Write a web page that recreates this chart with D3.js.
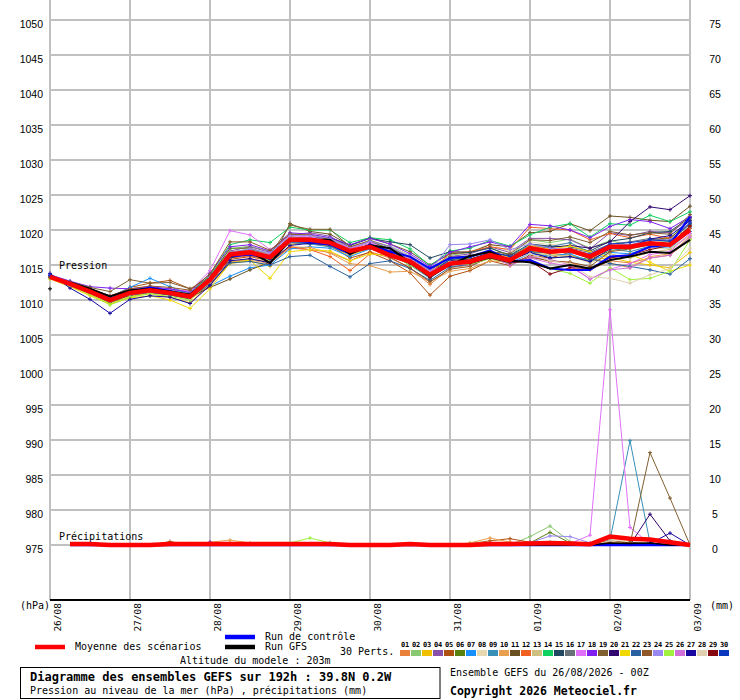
<!DOCTYPE html>
<html><head><meta charset="utf-8">
<script src="https://cdn.jsdelivr.net/npm/d3@7"></script>
<style>
body{margin:0;background:#fff}
svg{display:block}
text{font-family:"DejaVu Sans Mono",monospace;font-size:10px;fill:#000}
</style>
</head><body>
<svg id="c" width="740" height="700"></svg>
<script>
// ---------- DATA ----------
const hours = [0,6,12,18,24,30,36,42,48,54,60,66,72,78,84,90,96,102,108,114,120,126,132,138,144,150,156,162,168,174,180,186,192];
const precipHours = [6,12,18,24,30,36,42,48,54,60,66,72,78,84,90,96,102,108,114,120,126,132,138,144,150,156,162,168,174,180,186,192];
const dateLabels = ["26/08","27/08","28/08","29/08","30/08","31/08","01/09","02/09","03/09"];
const dateHours = [0,24,48,72,96,120,144,168,192];
const pressureTicks = [975,980,985,990,995,1000,1005,1010,1015,1020,1025,1030,1035,1040,1045,1050];
const precipTicks = [0,5,10,15,20,25,30,35,40,45,50,55,60,65,70,75];
const memberNames = ["01","02","03","04","05","06","07","08","09","10","11","12","13","14","15","16","17","18","19","20","21","22","23","24","25","26","27","28","29","30"];
const memberColors = ["#e8803a","#88c870","#f0c000","#8850a8","#b05010","#5a8010","#1890ff","#e8d8b0","#3890b8","#e8a050","#6a5020","#f06020","#d0c080","#10d060","#204860","#687078","#e070f8","#8020f0","#806030","#300870","#f0d800","#2860a0","#905828","#9888f0","#a0f040","#d070d8","#1808a0","#e0d0b0","#880810","#0838c0"];

const pressMean    = [1013.3,1012.3,1011.2,1010.0,1011.0,1011.4,1011.0,1010.5, 1012.9,1016.5,1016.8,1016.1,1018.6,1018.6,1018.2,1017.0, 1017.6,1016.4,1015.5,1013.6,1015.2,1015.5,1016.4,1015.7, 1017.4,1016.9,1017.1,1016.2,1017.6,1017.6,1018.1,1017.9,1020.0];
const pressControl = [1013.4,1012.4,1011.3,1010.2,1011.2,1011.8,1011.3,1010.6, 1012.8,1016.2,1016.5,1015.9,1018.4,1018.3,1017.9,1016.6, 1017.9,1016.9,1016.2,1014.5,1016.0,1016.2,1017.1,1015.5, 1015.7,1014.5,1014.3,1014.3,1016.2,1016.4,1017.6,1017.9,1021.9];
const pressGFS     = [1011.6,1012.5,1011.6,1010.5,1011.4,1011.6,1011.2,1010.8, 1013.0,1016.3,1016.9,1015.3,1018.5,1018.6,1018.6,1016.6, 1017.8,1017.4,1015.4,1013.4,1015.0,1016.3,1016.9,1015.6, 1015.4,1014.5,1015.0,1014.5,1015.7,1016.2,1016.9,1016.7,1018.6];

const pressP01 = [1013.2,1012.0,1010.9,1009.8,1010.6,1011.0,1010.7,1010.1, 1012.0,1015.4,1015.9,1015.4,1017.4,1017.2,1016.8,1015.6, 1016.9,1016.0,1014.6,1012.2,1014.6,1015.0,1016.2,1015.2, 1016.3,1015.5,1015.4,1014.3,1015.6,1015.3,1016.0,1016.4,1018.7];
const pressP02 = [1013.5,1012.6,1011.4,1010.3,1011.3,1011.7,1011.3,1010.6, 1013.6,1017.3,1017.7,1016.9,1019.5,1019.2,1018.8,1017.6, 1018.4,1017.7,1016.4,1014.5,1016.4,1016.8,1017.5,1016.3, 1018.6,1018.2,1018.7,1017.4,1018.5,1017.8,1018.6,1018.3,1020.9];
const pressP03 = [1013.1,1012.0,1010.8,1009.4,1010.5,1010.9,1010.4,1009.6, 1012.2,1015.2,1015.6,1014.8,1017.9,1018.3,1017.6,1016.4, 1017.4,1016.5,1015.0,1013.2,1015.1,1015.2,1016.0,1015.6, 1017.0,1016.6,1016.4,1015.6,1016.1,1015.4,1015.0,1014.6,1016.8];
const pressP04 = [1013.4,1012.5,1011.6,1010.6,1011.4,1011.8,1011.5,1011.0, 1013.5,1017.0,1017.6,1016.8,1019.3,1019.6,1019.1,1017.5, 1018.3,1017.3,1016.2,1014.4,1016.2,1016.6,1017.6,1016.8, 1018.8,1018.8,1018.6,1017.3,1019.6,1019.2,1019.8,1019.6,1021.6];
const pressP05 = [1013.2,1012.3,1011.4,1010.4,1011.8,1012.4,1012.8,1011.6, 1012.4,1015.8,1016.2,1015.6,1018.2,1018.0,1017.8,1016.0, 1016.8,1015.6,1013.9,1010.7,1013.4,1014.2,1015.6,1014.9, 1016.4,1016.0,1016.8,1016.4,1017.5,1017.8,1018.6,1018.9,1021.0];
const pressP06 = [1013.3,1012.2,1011.0,1009.6,1010.7,1011.2,1010.8,1010.2, 1013.3,1017.4,1017.4,1016.5,1019.0,1018.9,1018.7,1017.3, 1018.4,1017.3,1015.9,1014.0,1015.8,1015.9,1016.6,1015.7, 1017.0,1016.0,1016.2,1015.8,1017.0,1017.5,1018.4,1018.8,1021.4];
const pressP07 = [1013.5,1012.6,1011.5,1010.4,1011.8,1013.1,1011.9,1010.8, 1012.0,1013.4,1014.6,1015.0,1017.3,1017.6,1017.4,1016.2, 1017.3,1016.8,1015.4,1013.8,1015.6,1015.4,1016.2,1015.3, 1016.6,1016.3,1016.6,1015.5,1016.8,1016.6,1017.6,1017.4,1019.8];
const pressP08 = [1013.6,1012.6,1011.5,1010.5,1011.3,1011.6,1011.2,1010.8, 1013.0,1016.6,1017.0,1016.0,1018.8,1019.0,1018.5,1017.4, 1018.6,1017.6,1016.4,1014.6,1016.6,1016.9,1018.0,1016.9, 1018.3,1017.9,1018.1,1016.7,1017.2,1016.9,1017.4,1017.3,1019.4];
const pressP09 = [1013.4,1012.3,1011.1,1009.9,1010.8,1011.3,1011.0,1010.6, 1013.4,1016.6,1016.3,1015.8,1018.2,1018.0,1017.6,1016.6, 1017.7,1016.5,1015.0,1013.1,1015.1,1015.6,1016.8,1016.2, 1017.9,1017.6,1018.2,1016.8,1017.4,1016.9,1017.7,1018.0,1020.4];
const pressP10 = [1013.2,1012.2,1011.0,1009.9,1010.9,1011.3,1010.8,1010.3, 1012.1,1015.5,1015.7,1015.2,1017.6,1017.5,1016.7,1015.2, 1014.9,1014.0,1014.1,1012.6,1014.1,1014.5,1015.6,1015.4, 1017.9,1017.4,1016.9,1016.0,1015.3,1014.6,1016.2,1016.6,1019.1];
const pressP11 = [1013.2,1012.1,1011.0,1009.8,1010.8,1011.2,1010.9,1010.4, 1011.8,1013.0,1014.3,1015.4,1020.9,1019.8,1019.4,1017.8, 1018.9,1018.0,1016.9,1015.0,1016.6,1016.8,1017.9,1017.6, 1019.6,1019.8,1020.9,1019.9,1022.0,1021.8,1021.4,1021.2,1023.4];
const pressP12 = [1013.3,1012.4,1011.3,1010.1,1011.2,1011.5,1011.1,1010.6, 1012.6,1016.0,1016.3,1015.7,1017.6,1017.2,1016.2,1014.2, 1016.6,1016.4,1015.4,1013.6,1016.8,1016.9,1017.6,1017.2, 1020.4,1020.2,1020.0,1018.6,1019.5,1018.9,1019.4,1018.8,1020.2];
const pressP13 = [1013.4,1012.4,1011.3,1010.2,1011.2,1011.5,1011.1,1010.6, 1013.1,1016.9,1017.2,1016.5,1018.9,1018.8,1018.3,1017.0, 1018.0,1017.3,1015.8,1013.8,1015.6,1015.8,1016.6,1016.0, 1016.8,1016.4,1016.3,1015.3,1016.6,1016.0,1016.8,1017.2,1019.2];
const pressP14 = [1013.5,1012.6,1011.5,1010.4,1011.3,1011.8,1011.4,1010.9, 1013.6,1017.9,1018.6,1018.2,1020.4,1020.0,1020.0,1018.2, 1018.9,1018.6,1017.3,1014.9,1017.0,1017.4,1018.5,1017.7, 1019.3,1020.4,1020.9,1019.0,1020.9,1020.7,1022.1,1021.2,1022.6];
const pressP15 = [1013.2,1012.3,1011.2,1010.2,1011.0,1011.3,1011.0,1010.4, 1012.8,1016.0,1016.6,1016.2,1018.7,1018.9,1018.9,1017.8, 1018.8,1018.3,1017.9,1016.0,1016.9,1016.8,1017.4,1016.4, 1018.0,1017.7,1017.6,1017.0,1018.4,1018.8,1019.6,1019.8,1021.8];
const pressP16 = [1013.3,1012.2,1011.0,1009.8,1010.9,1011.4,1011.1,1010.6, 1013.3,1016.7,1016.9,1016.4,1019.0,1018.8,1018.0,1016.6, 1017.5,1016.7,1015.2,1013.3,1015.3,1015.5,1016.4,1015.8, 1017.2,1016.8,1017.4,1016.8,1018.0,1018.3,1018.8,1018.5,1020.8];
const pressP17 = [1013.6,1012.6,1011.5,1010.5,1011.5,1011.9,1011.5,1011.3, 1014.2,1019.9,1019.3,1017.2,1019.2,1019.0,1018.6,1017.5, 1018.3,1017.0,1015.6,1013.9,1015.2,1015.0,1016.0,1015.1, 1016.2,1015.8,1015.0,1013.0,1014.4,1015.2,1016.5,1016.9,1019.5];
const pressP18 = [1013.6,1012.7,1011.9,1011.7,1011.6,1011.9,1011.6,1011.1, 1013.8,1017.6,1017.9,1017.0,1019.6,1019.4,1018.9,1017.9, 1018.8,1018.0,1016.6,1014.8,1016.8,1017.6,1018.3,1017.6, 1020.8,1020.6,1020.0,1018.9,1020.5,1021.5,1021.2,1020.2,1021.9];
const pressP19 = [1013.4,1012.6,1011.8,1011.2,1012.9,1012.4,1012.5,1011.6, 1013.2,1016.8,1017.2,1016.4,1020.7,1020.1,1020.1,1017.6, 1018.5,1017.6,1016.0,1014.2,1016.1,1016.3,1016.9,1016.6, 1018.6,1018.5,1019.0,1018.2,1019.8,1019.3,1019.6,1019.4,1022.2];
const pressP20 = [1013.3,1012.4,1011.3,1010.1,1011.1,1011.5,1011.1,1010.5, 1012.9,1016.2,1016.5,1015.9,1018.3,1018.4,1018.0,1016.8, 1017.6,1016.8,1015.2,1013.4,1015.6,1015.8,1016.8,1016.3, 1017.6,1017.5,1017.8,1017.4,1018.3,1021.2,1023.3,1022.9,1024.9];
const pressP21 = [1013.0,1011.9,1010.6,1009.4,1010.3,1010.6,1010.0,1008.8, 1011.6,1015.3,1015.7,1013.1,1016.9,1017.2,1017.0,1015.6, 1016.6,1016.3,1015.2,1013.4,1015.4,1015.6,1016.6,1016.2, 1017.7,1017.3,1017.7,1016.9,1016.1,1016.5,1015.4,1014.1,1015.0];
const pressP22 = [1013.2,1012.1,1011.0,1009.8,1010.7,1011.1,1010.7,1010.2, 1012.3,1015.3,1015.5,1015.0,1016.2,1016.4,1014.8,1013.3, 1015.2,1015.6,1014.5,1012.8,1014.7,1015.1,1016.0,1015.5, 1016.9,1016.7,1016.9,1015.9,1015.2,1014.8,1014.3,1013.7,1015.9];
const pressP23 = [1013.4,1012.5,1011.6,1010.6,1011.6,1012.0,1011.8,1011.4, 1013.7,1018.3,1018.3,1017.1,1019.4,1019.3,1018.6,1016.6, 1017.4,1016.1,1014.6,1012.6,1014.4,1014.8,1016.1,1015.3, 1016.1,1015.6,1015.4,1014.8,1016.9,1017.3,1017.9,1018.0,1020.5];
const pressP24 = [1013.5,1012.5,1011.4,1010.4,1011.3,1011.7,1011.3,1010.9, 1013.2,1016.8,1017.3,1016.7,1019.2,1019.2,1018.8,1017.3, 1018.4,1017.6,1016.2,1014.1,1017.9,1018.0,1018.6,1017.2, 1018.0,1017.4,1017.2,1016.6,1018.0,1017.9,1018.5,1018.6,1021.1];
const pressP25 = [1013.1,1012.0,1010.8,1009.3,1010.4,1010.9,1010.5,1010.0, 1012.6,1016.6,1016.9,1015.6,1018.2,1018.3,1018.0,1016.9, 1017.6,1016.6,1015.0,1013.5,1015.3,1015.1,1015.9,1015.2, 1015.8,1014.5,1013.8,1012.4,1014.6,1012.9,1013.1,1014.1,1018.6];
const pressP26 = [1013.4,1012.4,1011.3,1010.2,1011.1,1011.5,1011.2,1010.7, 1013.0,1016.5,1017.0,1016.5,1018.9,1018.7,1018.4,1017.3, 1018.1,1017.0,1015.9,1014.1,1015.3,1015.2,1016.3,1015.0, 1016.0,1015.3,1014.8,1013.0,1014.3,1014.6,1016.0,1016.4,1019.0];
const pressP27 = [1013.8,1011.7,1010.1,1008.1,1010.1,1010.6,1010.4,1009.5, 1012.1,1015.6,1015.9,1015.3,1017.8,1018.1,1017.9,1016.9, 1017.8,1016.6,1015.2,1013.3,1015.0,1015.4,1016.4,1015.6, 1016.8,1016.0,1016.2,1015.5,1017.3,1017.6,1018.7,1019.2,1021.3];
const pressP28 = [1013.3,1012.2,1011.1,1009.9,1010.8,1011.2,1010.9,1010.3, 1012.6,1016.2,1016.6,1015.9,1018.3,1018.5,1018.1,1016.9, 1017.8,1016.9,1015.4,1013.5,1015.5,1015.7,1016.4,1015.6, 1016.6,1015.6,1015.2,1013.3,1013.1,1012.4,1013.6,1014.5,1017.4];
const pressP29 = [1013.3,1012.3,1011.2,1010.1,1011.0,1011.3,1010.9,1010.4, 1012.7,1016.3,1016.6,1016.0,1018.4,1018.5,1018.2,1017.0, 1017.9,1016.8,1015.3,1013.2,1015.2,1015.2,1016.0,1015.3, 1015.6,1013.7,1014.6,1014.5,1016.0,1016.4,1017.2,1017.8,1020.6];
const pressP30 = [1013.5,1012.5,1011.3,1010.2,1011.1,1011.6,1011.1,1010.6, 1013.0,1016.4,1016.6,1015.8,1018.6,1018.5,1018.1,1016.9, 1017.9,1017.0,1015.6,1013.7,1015.8,1016.1,1016.9,1016.2, 1017.5,1017.0,1017.2,1016.5,1018.0,1018.2,1018.6,1018.4,1021.0];

// precipitation (mm), steps 6h..192h
const precipMean    = [0.15,0.15,0,0,0,0.15,0.15,0.15, 0.15,0.15,0.15,0.15,0.15,0.15,0,0, 0,0.15,0,0,0,0.15,0.15,0.2, 0.3,0.2,0.1,1.2,0.9,0.8,0.4,0];
const precipControl = [0,0,0,0,0,0,0,0, 0,0,0,0,0,0,0,0, 0,0,0,0,0,0,0,0, 0,0,0,0,0,0,0,0];
const precipGFS     = [0,0,0,0,0,0,0,0, 0,0,0,0,0,0,0,0, 0,0,0,0,0,0,0,0, 0,0,0,0.3,0.2,0.3,0,0];
const precipP01 = [0,0,0,0,0,0,0,0.2, 0.3,0,0,0,0,0,0,0, 0,0,0,0,0,0.3,0.4,0, 0,0,0,0.5,0.3,0,0,0];
const precipP02 = [0,0,0,0,0,0,0,0, 0,0,0,0,0,0,0,0, 0,0,0,0,0,0,0,1.2, 2.7,0.5,0.1,0,0,0,0,0];
const precipP03 = [0,0,0,0,0,0,0,0, 0,0,0,0,0,0,0,0, 0,0,0,0,0,0,0,0, 0,0,0,0.3,0,0,0,0];
const precipP04 = [0,0,0,0,0,0,0,0, 0,0,0,0,0,0,0,0, 0,0,0,0,0,0,0,0, 0.3,0.2,0,0,0,0,0,0];
const precipP05 = [0,0,0,0,0,0.5,0,0, 0,0,0,0,0,0,0,0, 0,0,0,0,0.2,0.6,0.9,0.4, 0,0,0,0,0,0,0,0];
const precipP06 = [0,0,0,0,0,0,0,0, 0,0,0,0,0,0,0,0, 0,0,0,0,0,0,0,0.3, 1.8,0.3,0,0,0,0,0,0];
const precipP07 = [0,0,0,0,0,0,0,0, 0,0,0,0,0,0.3,0,0, 0,0,0,0,0,0,0,0, 0,0,0,0,0,0,0,0];
const precipP08 = [0,0,0,0,0,0,0,0, 0,0,0,0,0,0,0,0, 0,0,0,0,0,0,0,0, 0,0,0,0.9,0.4,0,0,0];
const precipP09 = [0,0,0,0,0,0,0,0, 0,0,0,0,0,0,0,0, 0,0,0,0,0,0,0,0, 0,0,0,0.7,14.9,0.3,0,0];
const precipP10 = [0,0,0,0,0,0,0.2,0.4, 0.7,0.3,0,0,0,0,0,0, 0,0,0,0,0.3,1.0,0.4,0, 0,0,0,0,0,0,0,0];
const precipP11 = [0,0,0,0,0,0,0,0, 0,0,0,0,0,0,0,0, 0,0,0,0,0,0,0,0, 0,0,0,0,0.4,0.2,0,0];
const precipP12 = [0,0,0,0,0,0,0,0.3, 0,0,0,0,0,0,0,0, 0,0,0,0,0,0,0,0, 0,0,0,0.4,0,0,0,0];
const precipP13 = [0,0,0,0,0,0,0,0, 0,0,0,0,0,0,0,0, 0,0,0,0,0,0,0,0, 0,0,0,0.5,0,0,0,0];
const precipP14 = [0,0,0,0,0,0,0,0, 0,0,0,0,0,0,0,0, 0,0,0,0,0,0,0,0, 0.4,0,0,0,0,0,0,0];
const precipP15 = [0,0,0,0,0,0,0,0, 0,0,0,0,0,0,0,0, 0,0,0,0,0,0,0,0, 0,0,0,0,0,0.3,0,0];
const precipP16 = [0,0,0,0,0,0,0,0, 0,0,0,0,0,0,0,0, 0,0,0,0,0,0,0,0, 0,0,0,0,0.3,0,0,0];
const precipP17 = [0,0,0,0,0,0,0,0, 0,0,0,0,0,0,0,0, 0,0,0,0,0,0,0,0, 0,0.2,1.4,33.6,2.5,0.2,0,0];
const precipP18 = [0,0,0,0,0,0,0,0.4, 0,0,0,0,0,0,0,0, 0,0,0,0,0,0,0,0.3, 0,0,0,0,0,0,0,0];
const precipP19 = [0,0,0,0,0,0,0,0, 0,0,0,0,0,0,0,0, 0,0,0,0,0,0,0,0, 0,0,0,0,0.1,13.2,6.7,0];
const precipP20 = [0,0,0,0,0,0,0,0, 0,0,0,0,0,0,0,0, 0,0,0,0,0,0,0,0, 0,0,0,0,0,4.4,0.6,0];
const precipP21 = [0,0,0,0,0,0,0,0, 0,0,0,0,0,0,0,0, 0,0,0,0,0,0,0,0, 0,0,0,0,0,0,0,0];
const precipP22 = [0,0,0,0,0,0,0,0, 0,0,0,0,0,0,0,0, 0,0,0,0,0,0,0,0, 0,0,0,0.2,0,0,0,0];
const precipP23 = [0,0,0,0,0,0,0,0, 0,0,0,0,0,0,0,0, 0,0,0,0,0,0,0,0, 0,0,0,0.6,0.3,0,0,0];
const precipP24 = [0,0,0,0,0,0,0,0, 0,0,0,0,0,0,0,0, 0,0,0,0,0,0,0,0.3, 1.3,1.2,0.3,0,0,0,0,0];
const precipP25 = [0,0,0,0,0,0,0,0, 0,0,0,0.3,1.0,0.3,0,0, 0,0,0,0,0,0,0,0, 0,0,0,0,0,0,0,0];
const precipP26 = [0,0,0,0,0,0,0,0, 0,0,0,0,0,0,0,0, 0,0,0,0,0,0,0,0, 0,0,0.3,0,0,0,0,0];
const precipP27 = [0,0,0,0,0,0,0,0, 0,0,0,0,0,0,0,0, 0,0,0,0,0,0,0,0, 0,0,0,0,0,0.2,1.7,0];
const precipP28 = [0,0,0,0,0,0,0,0, 0,0,0,0,0,0,0,0, 0,0,0,0,0,0,0,0, 0,0,0,0.6,0,0,0,0];
const precipP29 = [0,0,0,0,0,0,0,0, 0,0,0,0,0,0,0,0, 0,0,0,0,0,0,0,0, 0,0,0,0,0,0,0,0];
const precipP30 = [0,0,0,0,0,0,0,0, 0,0,0,0,0,0,0,0, 0,0,0,0,0,0,0,0, 0,0,0,0.2,0,0,0,0];

const pressMembers = [pressP01,pressP02,pressP03,pressP04,pressP05,pressP06,pressP07,pressP08,pressP09,pressP10,pressP11,pressP12,pressP13,pressP14,pressP15,pressP16,pressP17,pressP18,pressP19,pressP20,pressP21,pressP22,pressP23,pressP24,pressP25,pressP26,pressP27,pressP28,pressP29,pressP30];
const precipMembers = [precipP01,precipP02,precipP03,precipP04,precipP05,precipP06,precipP07,precipP08,precipP09,precipP10,precipP11,precipP12,precipP13,precipP14,precipP15,precipP16,precipP17,precipP18,precipP19,precipP20,precipP21,precipP22,precipP23,precipP24,precipP25,precipP26,precipP27,precipP28,precipP29,precipP30];

// ---------- CHART ----------
const svg = d3.select("#c");
const L = 50, R = 690, T = 0, B = 600;
const x = d3.scaleLinear().domain([0,192]).range([L,R]);
const yP = d3.scaleLinear().domain([975,1050]).range([545,20]);
const yR = d3.scaleLinear().domain([0,75]).range([545,20]);

// grid
const grid = svg.append("g").attr("stroke","#c0c0c0").attr("stroke-width",2).attr("shape-rendering","crispEdges");
grid.selectAll("line.v").data(dateHours).join("line").attr("class","v")
  .attr("x1",d=>x(d)).attr("x2",d=>x(d)).attr("y1",T).attr("y2",B);
grid.selectAll("line.h").data(pressureTicks).join("line").attr("class","h")
  .attr("x1",L).attr("x2",R).attr("y1",d=>yP(d)).attr("y2",d=>yP(d));

// axes
const axL = svg.append("g").attr("transform",`translate(${L},0)`)
  .call(d3.axisLeft(yP).tickValues(pressureTicks).tickSize(0).tickPadding(7).tickFormat(d3.format("d")));
axL.select(".domain").remove();
axL.selectAll("text").attr("dy","0.75em").style("font-family","'Liberation Sans',Arial,sans-serif").style("font-size","10.5px");
const axR = svg.append("g").attr("transform",`translate(${R},0)`)
  .call(d3.axisRight(yR).tickValues(precipTicks).tickSize(0).tickPadding(25).tickFormat(d3.format("d")));
axR.select(".domain").remove();
axR.selectAll("text").attr("dy","0.75em").attr("text-anchor","middle").style("font-family","'Liberation Sans',Arial,sans-serif").style("font-size","10.5px");

svg.append("line").attr("x1",L).attr("x2",R).attr("y1",B).attr("y2",B).attr("stroke","#000").attr("stroke-width",2).attr("shape-rendering","crispEdges");

svg.selectAll("text.date").data(dateHours).join("text").attr("class","date")
  .attr("transform",d=>`translate(${x(d)+11},603) rotate(-90)`)
  .attr("text-anchor","end").style("font-size","9.5px")
  .text((d,i)=>dateLabels[i]);

svg.append("text").attr("x",20).attr("y",609).text("(hPa)");
svg.append("text").attr("x",710).attr("y",609).text("(mm)");
svg.append("text").attr("x",59).attr("y",269).text("Pression");
svg.append("text").attr("x",59).attr("y",540).text("Précipitations");

// series
const lineP = d3.line().x((d,i)=>x(hours[i])).y(d=>yP(d));
const lineR = d3.line().x((d,i)=>x(precipHours[i])).y(d=>yR(d));
function crosses(vals, hrs, sc, filt){
  let p = "";
  vals.forEach((v,i)=>{ if(filt && !filt(v)) return; const cx=x(hrs[i]), cy=sc(v); p += `M${cx-2},${cy}H${cx+2}M${cx},${cy-2}V${cy+2}`; });
  return p;
}
const gm = svg.append("g").attr("fill","none");
pressMembers.forEach((s,k)=>{
  gm.append("path").attr("d",lineP(s)).attr("stroke",memberColors[k]).attr("stroke-width",1);
  gm.append("path").attr("d",crosses(s,hours,yP)).attr("stroke",memberColors[k]).attr("stroke-width",1);
});
precipMembers.forEach((s,k)=>{
  gm.append("path").attr("d",lineR(s)).attr("stroke",memberColors[k]).attr("stroke-width",1);
  gm.append("path").attr("d",crosses(s,precipHours,yR,v=>v>0)).attr("stroke",memberColors[k]).attr("stroke-width",1);
});
// control
gm.append("path").attr("d",lineP(pressControl)).attr("stroke","#0000ff").attr("stroke-width",2);
gm.append("path").attr("d",lineR(precipControl)).attr("stroke","#0000ff").attr("stroke-width",2.5);
// GFS
gm.append("path").attr("d",d3.line().defined((d,i)=>i>0).x((d,i)=>x(hours[i])).y(d=>yP(d))(pressGFS)).attr("stroke","#000").attr("stroke-width",2);
gm.append("path").attr("d",crosses([pressGFS[0]],[hours[0]],yP)).attr("stroke","#000").attr("stroke-width",1);
gm.append("path").attr("d",lineR(precipGFS)).attr("stroke","#000").attr("stroke-width",1.5);
// mean
gm.append("path").attr("d",lineP(pressMean)).attr("stroke","#ff0000").attr("stroke-width",4.5);
gm.append("path").attr("d",lineR(precipMean)).attr("stroke","#ff0000").attr("stroke-width",4.5);

// legend
svg.append("line").attr("x1",35).attr("x2",65).attr("y1",647).attr("y2",647).attr("stroke","#ff0000").attr("stroke-width",4.5);
svg.append("text").attr("x",75).attr("y",650).text("Moyenne des scénarios");
svg.append("line").attr("x1",225).attr("x2",255).attr("y1",637).attr("y2",637).attr("stroke","#0000ff").attr("stroke-width",4.5);
svg.append("text").attr("x",265).attr("y",640).text("Run de contrôle");
svg.append("line").attr("x1",225).attr("x2",255).attr("y1",647).attr("y2",647).attr("stroke","#000").attr("stroke-width",4.5);
svg.append("text").attr("x",265).attr("y",650).text("Run GFS");
svg.append("text").attr("x",180).attr("y",664).text("Altitude du modele : 203m");
svg.append("text").attr("x",340).attr("y",655).text("30 Perts.");
const sw = svg.append("g");
sw.selectAll("rect").data(memberColors).join("rect")
  .attr("x",(d,i)=>400+i*11).attr("y",650).attr("width",10).attr("height",6).attr("fill",d=>d);
sw.selectAll("text").data(memberNames).join("text")
  .attr("x",(d,i)=>405+i*11).attr("y",646.5).attr("text-anchor","middle")
  .style("font-size","7px").style("font-weight","bold").style("letter-spacing","-0.3px").text(d=>d);

svg.append("rect").attr("x",20.5).attr("y",667.5).attr("width",419.5).attr("height",31).attr("fill","none").attr("stroke","#000").attr("stroke-width",1);
svg.append("text").attr("x",30).attr("y",681).style("font-size","12px").style("font-weight","bold").text("Diagramme des ensembles GEFS sur 192h : 39.8N 0.2W");
svg.append("text").attr("x",30).attr("y",694).text("Pression au niveau de la mer (hPa) , précipitations (mm)");
svg.append("text").attr("x",450).attr("y",676).text("Ensemble GEFS du 26/08/2026 - 00Z");
svg.append("text").attr("x",450).attr("y",695).style("font-size","11.5px").style("font-weight","bold").text("Copyright 2026 Meteociel.fr");
</script>
</body></html>
